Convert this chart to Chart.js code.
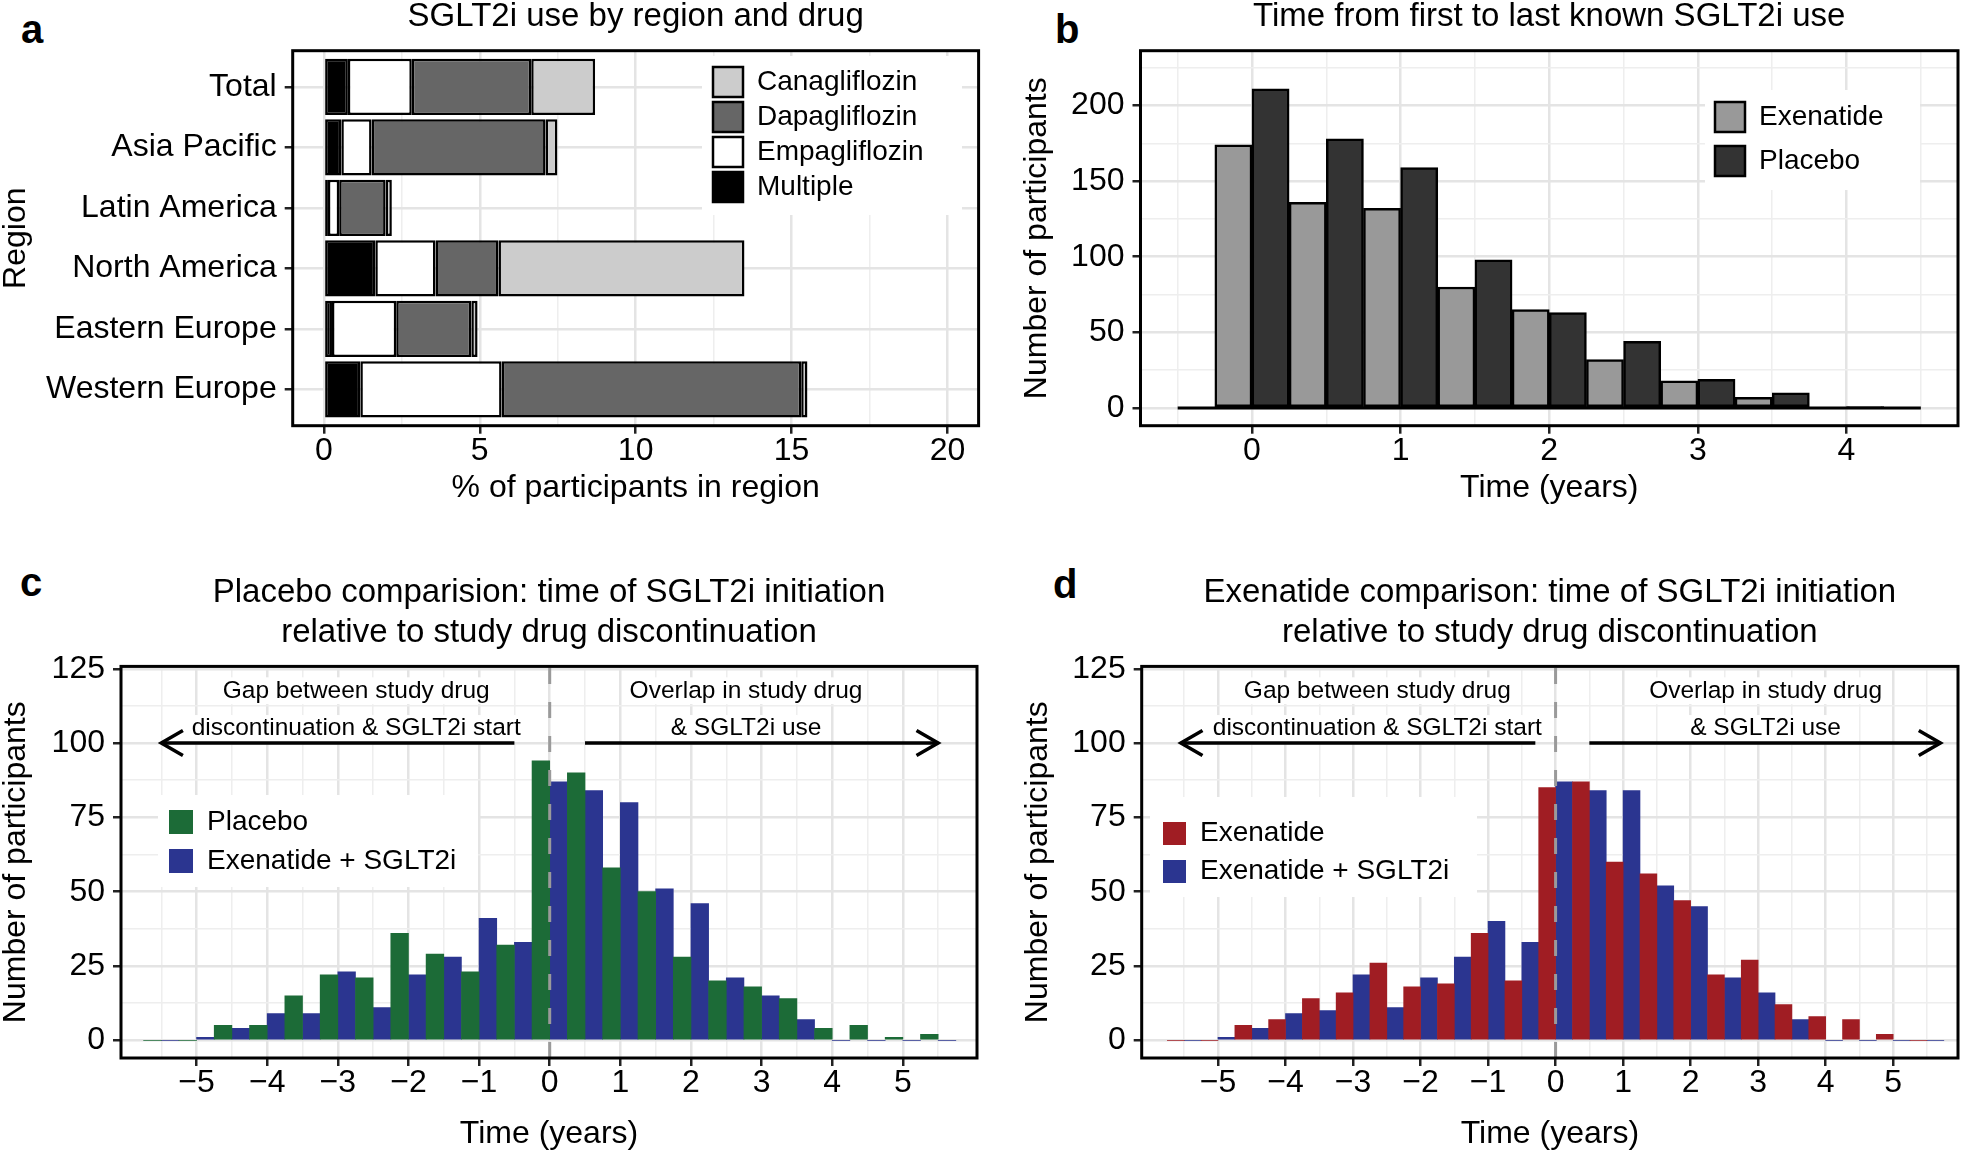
<!DOCTYPE html>
<html>
<head>
<meta charset="utf-8">
<title>SGLT2i use</title>
<script src="https://cdn.jsdelivr.net/npm/chart.js@4.4.1/dist/chart.umd.min.js"></script>
<style>
  html, body { margin: 0; padding: 0; background: #fff; }
  body { width: 1961px; height: 1153px; position: relative; overflow: hidden; font-family: "Liberation Sans", Arial, sans-serif; }
  canvas { position: absolute; }
  .tag { position: absolute; font-weight: bold; font-size: 40px; line-height: 40px; color: #000; }
</style>
</head>
<body>
<div class="tag" style="left:21px;top:9px">a</div>
<div class="tag" style="left:1055px;top:9px">b</div>
<div class="tag" style="left:20px;top:562px">c</div>
<div class="tag" style="left:1053px;top:564px">d</div>
<canvas id="chartA" width="990" height="504" style="left:0;top:0"></canvas>
<canvas id="chartB" width="951" height="504" style="left:1010px;top:0"></canvas>
<canvas id="chartC" width="990" height="593" style="left:0;top:560px"></canvas>
<canvas id="chartD" width="951" height="593" style="left:1010px;top:560px"></canvas>
<script>
// panel a: % of participants in region, by drug (stacked left to right)
const regions = ['Total', 'Asia Pacific', 'Latin America', 'North America', 'Eastern Europe', 'Western Europe'];
const multiple      = [0.77, 0.56, 0.13, 1.65, 0.26, 1.17];
const empagliflozin = [2.05, 0.97, 0.36, 1.93, 2.06, 4.53];
const dapagliflozin = [3.83, 5.58, 1.49, 2.02, 2.41, 9.61];
const canagliflozin = [2.05, 0.38, 0.20, 7.89, 0.20, 0.20];
const pctTicks = [0, 5, 10, 15, 20];

// panel b: time from first to last known SGLT2i use (half-year bins)
const durationBins = [-0.5, 0, 0.5, 1, 1.5, 2, 2.5, 3, 3.5, 4, 4.5];
const durExenatide = [null, 174, 136, 132, 80, 65, 32, 18, 7, 0, 0];
const durPlacebo   = [0, 211, 178, 159, 98, 63, 44, 19, 10, 1, null];
const yearTicksB  = [0, 1, 2, 3, 4];
const countTicksB = [0, 50, 100, 150, 200];

// panels c and d: SGLT2i start relative to study drug discontinuation
const startBins  = [-5.5, -5, -4.5, -4, -3.5, -3, -2.5, -2, -1.5, -1, -0.5, 0, 0.5, 1, 1.5, 2, 2.5, 3, 3.5, 4, 4.5, 5, 5.5];
const placeboC   = [0, 0, 5, 5, 15, 22, 21, 36, 29, 23, 32, 94, 90, 58, 50, 28, 20, 18, 14, 4, 5, 1, 2];
const exenSglt2C = [0, 1, 4, 9, 9, 23, 11, 22, 28, 41, 33, 87, 84, 80, 51, 46, 21, 15, 7, 0, 0, 0, 0];
const exenatideD = [0, 0, 5, 7, 14, 16, 26, 18, 19, 36, 20, 85, 87, 60, 56, 47, 22, 27, 12, 8, 7, 2, 0];
const exenSglt2D = [0, 1, 4, 9, 10, 22, 11, 21, 28, 40, 33, 87, 84, 84, 52, 45, 21, 16, 7, 0, 0, 0, 0];
const yearTicksCD  = [-5, -4, -3, -2, -1, 0, 1, 2, 3, 4, 5];
const countTicksCD = [0, 25, 50, 75, 100, 125];

Chart.defaults.font.family = '"Liberation Sans", Arial, sans-serif';
Chart.defaults.color = '#000';
Chart.defaults.animation = false;
Chart.defaults.plugins.tooltip.enabled = false;

const pts = (xs, ys) => xs.map((x, i) => ({ x: x, y: ys[i] })).filter(p => p.y !== null);
const minus = v => (v < 0 ? '\u2212' + Math.abs(v) : String(v));

// major ticks plus the half steps between them (ggplot minor grid)
function withMinor(major, lo, hi) {
  const step = major[1] - major[0];
  const out = [];
  major.forEach(v => out.push(v - step / 2, v));
  out.push(major[major.length - 1] + step / 2);
  return out.filter(v => v >= lo && v <= hi);
}

function axis(o) {
  const isMajor = v => o.major.includes(v);
  return {
    type: 'linear', min: o.min, max: o.max, offset: false,
    reverse: !!o.reverse, stacked: !!o.stacked,
    afterBuildTicks: s => { s.ticks = o.ticks.map(v => ({ value: v })); },
    afterFit: s => { if (o.width) s.width = o.width; if (o.height) s.height = o.height; },
    grid: {
      z: -1, offset: false, drawTicks: true, tickLength: 8,
      color: c => (c.tick && isMajor(c.tick.value) ? '#e4e4e4' : '#eeeeee'),
      lineWidth: c => (c.tick && isMajor(c.tick.value) ? 2.5 : 1.5),
      tickColor: c => (c.tick && isMajor(c.tick.value) ? '#222' : 'rgba(0,0,0,0)'),
      tickWidth: 2.5
    },
    border: { display: false },
    ticks: {
      autoSkip: false, maxRotation: 0, minRotation: 0, padding: o.pad, color: '#000',
      font: { size: 32, lineHeight: 1 },
      callback: v => (isMajor(v) ? o.fmt(v) : '')
    },
    title: { display: true, text: o.label, color: '#000', font: { size: 32, lineHeight: 1 }, padding: o.titlePad }
  };
}

function titleOpts(text, lh, pt, pb) {
  return { display: true, text: text, fullSize: false, color: '#000',
           font: { size: 33, weight: 'normal', lineHeight: lh }, padding: { top: pt, bottom: pb } };
}

function legendOpts(box, pad, reverse) {
  return { display: true, position: 'chartArea', align: 'start', reverse: !!reverse,
           labels: { color: '#000', font: { size: 28 }, boxWidth: box, boxHeight: box, padding: pad } };
}

// legend box inside the panel, with white background
const placeLegend = {
  id: 'placeLegend',
  afterLayout(chart, args, o) {
    const lg = chart.legend;
    if (!lg || !o.at) return;
    const a = chart.chartArea;
    const w = lg.width, h = lg.height;
    lg.left = a.left + o.at[0];
    lg.top = a.top + o.at[1];
    lg.right = lg.left + w;
    lg.bottom = lg.top + h;
    lg.$bgRect = [a.left + o.bg[0], a.top + o.bg[1], o.bg[2], o.bg[3]];
    if (!lg.$wrapped) {
      const orig = lg.draw;
      lg.draw = function (area) {
        const r = this.$bgRect, c = this.ctx;
        c.save(); c.fillStyle = '#fff'; c.fillRect(r[0], r[1], r[2], r[3]); c.restore();
        return orig.call(this, area);
      };
      lg.$wrapped = true;
    }
  }
};

// labels, arrows, reference lines in data coordinates
const notes = {
  id: 'notes',
  afterDatasetsDraw(chart, args, o) {
    const { ctx, chartArea: a, scales: { x, y } } = chart;
    ctx.save();
    ctx.beginPath(); ctx.rect(a.left, a.top, a.width, a.height); ctx.clip();
    if (o.baseline) {
      ctx.strokeStyle = '#000'; ctx.lineWidth = 3;
      ctx.beginPath();
      ctx.moveTo(x.getPixelForValue(o.baseline[0]), y.getPixelForValue(0));
      ctx.lineTo(x.getPixelForValue(o.baseline[1]), y.getPixelForValue(0));
      ctx.stroke();
    }
    ctx.font = o.fontSize + 'px "Liberation Sans", Arial, sans-serif';
    ctx.textAlign = 'center'; ctx.textBaseline = 'middle';
    (o.labels || []).forEach(l => {
      const px = x.getPixelForValue(l.x), py = y.getPixelForValue(l.y);
      const w = ctx.measureText(l.text).width;
      ctx.fillStyle = '#fff';
      ctx.fillRect(px - w / 2 - 3, py - o.fontSize * 0.55, w + 6, o.fontSize * 1.1);
      ctx.fillStyle = '#000';
      ctx.fillText(l.text, px, py);
    });
    (o.arrows || []).forEach(ar => {
      const yy = y.getPixelForValue(ar.y);
      const x1 = x.getPixelForValue(ar.from), x2 = x.getPixelForValue(ar.to);
      const dir = Math.sign(x2 - x1), head = 25, ang = Math.PI / 6;
      ctx.strokeStyle = '#000'; ctx.lineWidth = 3.5;
      ctx.beginPath(); ctx.moveTo(x1, yy); ctx.lineTo(x2, yy); ctx.stroke();
      ctx.beginPath();
      ctx.moveTo(x2 - dir * head * Math.cos(ang), yy - head * Math.sin(ang));
      ctx.lineTo(x2, yy);
      ctx.lineTo(x2 - dir * head * Math.cos(ang), yy + head * Math.sin(ang));
      ctx.stroke();
    });
    if (o.vline !== undefined) {
      const vx = x.getPixelForValue(o.vline);
      ctx.strokeStyle = '#9a9a9a'; ctx.lineWidth = 3; ctx.setLineDash([16, 18]);
      ctx.beginPath(); ctx.moveTo(vx, a.bottom); ctx.lineTo(vx, a.top); ctx.stroke();
    }
    ctx.restore();
  }
};

// black panel border
const frame = {
  id: 'frame',
  afterDatasetsDraw(chart) {
    const { ctx, chartArea: a } = chart;
    ctx.save(); ctx.strokeStyle = '#000'; ctx.lineWidth = 3;
    ctx.strokeRect(a.left, a.top, a.width, a.height);
    ctx.restore();
  }
};

// ---------- a ----------
const drugSeries = [
  ['Multiple', multiple, '#000000'],
  ['Empagliflozin', empagliflozin, '#ffffff'],
  ['Dapagliflozin', dapagliflozin, '#666666'],
  ['Canagliflozin', canagliflozin, '#cccccc']
];
new Chart(document.getElementById('chartA'), {
  type: 'bar',
  data: {
    datasets: drugSeries.map(s => ({
      label: s[0],
      data: regions.map((r, i) => ({ x: s[1][i], y: i + 1 })),
      backgroundColor: s[2], borderColor: '#000', borderWidth: 2.5, borderSkipped: false,
      categoryPercentage: 0.93, barPercentage: 1
    }))
  },
  options: {
    responsive: false, devicePixelRatio: 1, indexAxis: 'y',
    layout: { padding: { left: 0, right: 11.4, top: 0, bottom: 0 } },
    scales: {
      x: axis({ min: -1, max: 21, stacked: true, major: pctTicks, ticks: withMinor(pctTicks, -1, 21),
                fmt: String, label: '% of participants in region', pad: 1, height: 78.3,
                titlePad: { top: 0, bottom: 0 } }),
      y: axis({ min: 0.4, max: 6.6, reverse: true, stacked: true,
                major: regions.map((r, i) => i + 1), ticks: regions.map((r, i) => i + 1),
                fmt: v => regions[v - 1], label: 'Region', pad: 8, width: 292.7,
                titlePad: { top: 0, bottom: 0 } })
    },
    plugins: {
      title: titleOpts('SGLT2i use by region and drug', 1, 0, 17.7),
      legend: legendOpts(30, 5, true),
      placeLegend: { at: [415.3, 11.3], bg: [409.3, 5.3, 260, 159] }
    }
  },
  plugins: [placeLegend, frame]
});

// ---------- b ----------
new Chart(document.getElementById('chartB'), {
  type: 'bar',
  data: {
    datasets: [
      { label: 'Exenatide', data: pts(durationBins, durExenatide), backgroundColor: '#999999' },
      { label: 'Placebo', data: pts(durationBins, durPlacebo), backgroundColor: '#333333' }
    ].map(d => Object.assign(d, { borderColor: '#000', borderWidth: 2.5, borderSkipped: false,
                                  categoryPercentage: 1, barPercentage: 1 }))
  },
  options: {
    responsive: false, devicePixelRatio: 1,
    layout: { padding: { left: 0, right: 3, top: 0, bottom: 0 } },
    scales: {
      x: axis({ min: -0.75, max: 4.75, major: yearTicksB, ticks: withMinor(yearTicksB, -0.75, 4.75),
                fmt: String, label: 'Time (years)', pad: 1, height: 78.3, titlePad: { top: 0, bottom: 0 } }),
      y: axis({ min: -11.7, max: 236.2, major: countTicksB, ticks: withMinor(countTicksB, -11.7, 236.2),
                fmt: String, label: 'Number of participants', pad: 8, width: 130.5,
                titlePad: { top: 11, bottom: 0 } })
    },
    plugins: {
      title: titleOpts('Time from first to last known SGLT2i use', 1, 0, 17.7),
      legend: legendOpts(30, 14),
      placeLegend: { at: [560.5, 37.3], bg: [564.5, 39.3, 215, 100] },
      notes: { baseline: [durationBins[0], durationBins[durationBins.length - 1]], fontSize: 24 }
    }
  },
  plugins: [placeLegend, notes, frame]
});

// ---------- c and d ----------
function startChart(id, o) {
  return new Chart(document.getElementById(id), {
    type: 'bar',
    data: {
      datasets: o.series.map(s => ({
        label: s[0], data: pts(startBins, s[1]), backgroundColor: s[2],
        borderWidth: 0, categoryPercentage: 1, barPercentage: 1
      }))
    },
    options: {
      responsive: false, devicePixelRatio: 1,
      layout: { padding: { left: 0, right: o.padRight, top: 0, bottom: 3 } },
      scales: {
        x: axis({ min: o.xMin, max: o.xMax, major: yearTicksCD, ticks: withMinor(yearTicksCD, o.xMin, o.xMax),
                  fmt: minus, label: 'Time (years)', pad: 1, height: 92, titlePad: { top: 0, bottom: 0 } }),
        y: axis({ min: -5.95, max: 125.8, major: countTicksCD, ticks: withMinor(countTicksCD, -5.95, 125.8),
                  fmt: String, label: 'Number of participants', pad: 8, width: o.yWidth,
                  titlePad: { top: o.yTitlePad, bottom: 0 } })
      },
      plugins: {
        title: titleOpts(o.title, 40 / 33, 13, 13.4),
        legend: legendOpts(o.box, o.legendPad),
        placeLegend: { at: o.legendAt, bg: o.legendBg },
        notes: {
          fontSize: 24.5, vline: 0,
          labels: [
            { x: o.gapX, y: 117.6, text: 'Gap between study drug' },
            { x: o.gapX, y: 104.9, text: 'discontinuation & SGLT2i start' },
            { x: o.overlapX, y: 117.6, text: 'Overlap in study drug' },
            { x: o.overlapX, y: 104.9, text: '& SGLT2i use' }
          ],
          arrows: o.arrows
        }
      }
    },
    plugins: [placeLegend, notes, frame]
  });
}

startChart('chartC', {
  title: ['Placebo comparision: time of SGLT2i initiation', 'relative to study drug discontinuation'],
  series: [['Placebo', placeboC, '#1c6b37'], ['Exenatide + SGLT2i', exenSglt2C, '#2b3590']],
  xMin: -6.07, xMax: 6.05, padRight: 13, yWidth: 121, yTitlePad: 0,
  box: 24, legendPad: 11, legendAt: [37, 130.6], legendBg: [37, 128.6, 320, 92],
  gapX: -2.74, overlapX: 2.78,
  arrows: [{ y: 100, from: -0.5, to: -5.5 }, { y: 100, from: 0.5, to: 5.5 }]
});

startChart('chartD', {
  title: ['Exenatide comparison: time of SGLT2i initiation', 'relative to study drug discontinuation'],
  series: [['Exenatide', exenatideD, '#a01d23'], ['Exenatide + SGLT2i', exenSglt2D, '#2b3590']],
  xMin: -6.13, xMax: 5.96, padRight: 3, yWidth: 131.7, yTitlePad: 12,
  box: 23, legendPad: 10, legendAt: [11.3, 143.1], legendBg: [8.3, 130.6, 327, 100],
  gapX: -2.64, overlapX: 3.11,
  arrows: [{ y: 100, from: -0.3, to: -5.55 }, { y: 100, from: 0.5, to: 5.7 }]
});
</script>
</body>
</html>
